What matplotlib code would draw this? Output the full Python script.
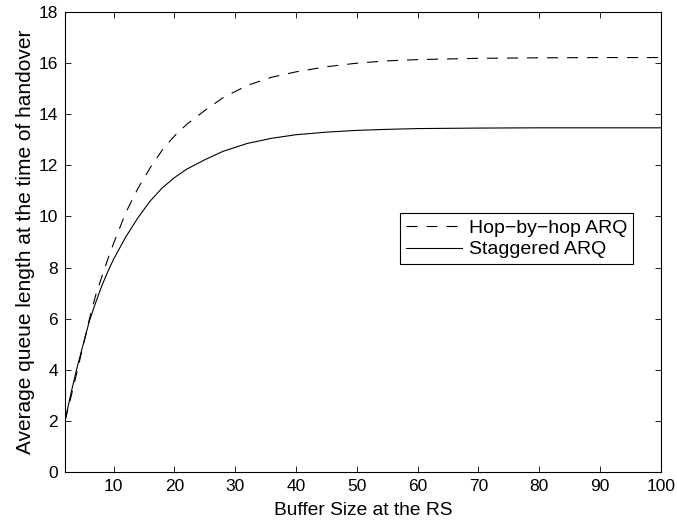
import numpy as np
import matplotlib
matplotlib.use("Agg")
from matplotlib import pyplot as plt

plt.rcParams['font.family'] = ['Liberation Sans', 'DejaVu Sans']

# buffer size at the relay station
buffer_size = [2, 3, 4, 5, 6, 7, 8, 9, 10, 12, 14, 16, 18, 20, 22, 25, 28,
               32, 36, 40, 45, 50, 55, 60, 70, 80, 90, 100]

# average queue length, hop-by-hop ARQ
hop_by_hop = [2.0, 2.95, 3.95, 4.95, 5.97, 6.88, 7.6, 8.3, 8.95, 10.15, 11.1,
              11.9, 12.6, 13.15, 13.6, 14.15, 14.65, 15.13, 15.45, 15.66,
              15.86, 16.0, 16.09, 16.14, 16.19, 16.21, 16.22, 16.22]

# average queue length, staggered ARQ
staggered = [2.0, 3.1, 4.1, 5.0, 5.9, 6.6, 7.25, 7.82, 8.33, 9.2, 9.95, 10.6,
             11.12, 11.52, 11.85, 12.22, 12.55, 12.86, 13.06, 13.2, 13.3,
             13.37, 13.41, 13.44, 13.46, 13.47, 13.47, 13.47]

x_ticks = [10, 20, 30, 40, 50, 60, 70, 80, 90, 100]
y_ticks = [0, 2, 4, 6, 8, 10, 12, 14, 16, 18]

fig = plt.figure(figsize=(6.77, 5.25), dpi=100)
ax = fig.add_axes([0.096, 0.101, 0.880, 0.876])

ax.plot(buffer_size, hop_by_hop, color='black', lw=0.8, dashes=(9.9, 8.1),
        label='Hop\u2212by\u2212hop ARQ')
ax.plot(buffer_size, staggered, color='black', lw=0.8, label='Staggered ARQ')

ax.set_xlim(2, 100)
ax.set_ylim(0, 18)
ax.set_xticks(x_ticks)
ax.set_yticks(y_ticks)
ax.tick_params(direction='in', top=True, right=True, labelsize=12.5,
               length=4, width=0.6)
ax.tick_params(axis='x', pad=5)
ax.tick_params(axis='y', pad=5)
for s in ax.spines.values():
    s.set_linewidth(0.8)

ax.set_xlabel('Buffer Size at the RS', fontsize=13.75, labelpad=6)
ax.set_ylabel('Average queue length at the time of handover', fontsize=15,
              labelpad=3)

leg = ax.legend(loc='center right', bbox_to_anchor=(0.953, 0.507),
                borderaxespad=0, fontsize=14, fancybox=False,
                edgecolor='black', framealpha=1, handlelength=2.9,
                handletextpad=0.33, borderpad=0.3, labelspacing=0.2)
leg.get_frame().set_linewidth(0.8)

fig.savefig('out.png', dpi=100)
